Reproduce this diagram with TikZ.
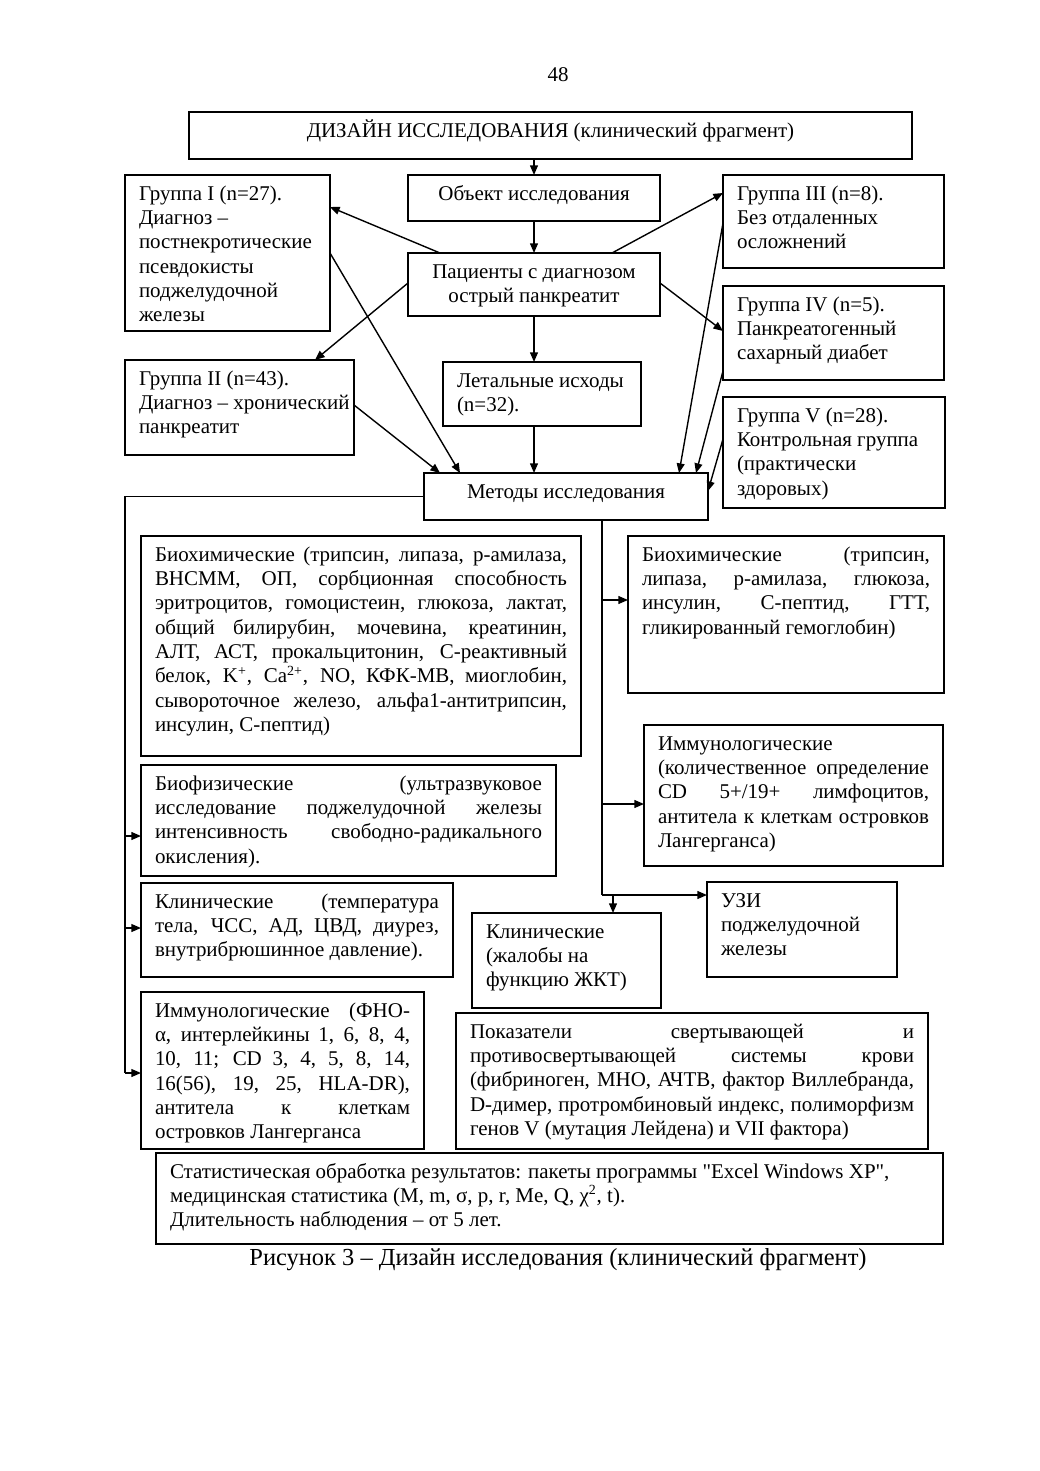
\documentclass[tikz,border=0pt]{standalone}
\usepackage{fontspec}
\newfontfamily\tnr{Liberation Serif}
\usetikzlibrary{arrows.meta,calc}
\newdimen\upx \upx=0.5723pt
\newdimen\padx \padx=14\upx
\newcommand\rag{\rightskip=0pt plus 1fil\relax}
\newcommand\ctr{\leftskip=\padx plus 1fil\relax \rightskip=\padx plus 1fil\relax \parfillskip=0pt\relax}
\newcommand\lb{\unskip\penalty-10000\relax}
\newcommand\boxtext[4]{%
  \vbox to #3\upx{%
    \hsize=#2\upx
    \tnr\fontsize{12pt}{13.9pt}\selectfont
    \parindent=0pt \parskip=0pt
    \leftskip=\padx \rightskip=\padx \parfillskip=0pt plus 1fil\relax
    \tolerance=10000 \hbadness=10000 \hfuzz=30pt \hyphenpenalty=10000 \exhyphenpenalty=10000
    #1%
    \vskip\upx \prevdepth=0pt
    #4\par\vss}}
\tikzset{
  bx/.style={draw, line width=0.6pt, anchor=north west, inner sep=0pt, outer sep=0pt},
  ln/.style={line width=0.8pt},
  arr/.style={line width=0.8pt, -{Triangle[length=5.5pt,width=4.5pt]}}
}
\begin{document}
\begin{tikzpicture}[x=0.5723pt,y=-0.5723pt]
\fill[white] (0,0) rectangle (1040,1471);
\useasboundingbox (0,0) rectangle (1040,1471);

\node[font=\tnr\fontsize{12pt}{14pt}\selectfont] (pg) at (558,75) {48};

% upper part
\node[bx] (title) at (189,112) {\boxtext{\ctr}{723}{47}{ДИЗАЙН ИССЛЕДОВАНИЯ (клинический фрагмент)}};
\node[bx] (obj) at (408,175) {\boxtext{\ctr}{252}{46}{Объект исследования}};
\node[bx] (g1) at (125,175) {\boxtext{\rag}{205}{156}{Группа I (n=27).\par Диагноз –\par постнекротические\par псевдокисты\par поджелудочной\par железы}};
\node[bx] (g3) at (723,175) {\boxtext{\rag}{221}{93}{Группа III (n=8).\par Без отдаленных\par осложнений}};
\node[bx] (pat) at (408,253) {\boxtext{\ctr}{252}{63}{Пациенты с диагнозом\par острый панкреатит}};
\node[bx] (g4) at (723,286) {\boxtext{\rag}{221}{94}{Группа IV (n=5).\par Панкреатогенный\par сахарный диабет}};
\node[bx] (g2) at (125,360) {\boxtext{\rag}{229}{95}{Группа II (n=43).\par Диагноз – хронический\par панкреатит}};
\node[bx] (leth) at (443,362) {\boxtext{\rag}{198}{64}{Летальные исходы\par (n=32).}};
\node[bx] (g5) at (723,397) {\boxtext{\rag}{222}{111}{Группа V (n=28).\par Контрольная группа\par (практически\par здоровых)}};
\node[bx] (meth) at (424,473) {\boxtext{\ctr}{284}{47}{Методы исследования}};

% lower part
\node[bx] (bcL) at (141,536) {\boxtext{}{440}{220}{Биохимические (трипсин, липаза, р-амилаза,\lb ВНСММ, ОП, сорбционная способность\lb эритроцитов, гомоцистеин, глюкоза, лактат,\lb общий билирубин, мочевина, креатинин,\lb АЛТ, АСТ, прокальцитонин, С-реактивный\lb белок, K\textsuperscript{+}, Ca\textsuperscript{2+}, NO, КФК-МВ, миоглобин,\lb сывороточное железо, альфа1-антитрипсин,\lb инсулин, С-пептид)}};
\node[bx] (bcR) at (628,536) {\boxtext{}{316}{157}{Биохимические (трипсин,\lb липаза, р-амилаза, глюкоза,\lb инсулин, С-пептид, ГТТ,\lb гликированный гемоглобин)}};
\node[bx] (imR) at (644,725) {\boxtext{}{299}{141}{Иммунологические\par (количественное определение\lb CD 5+/19+ лимфоцитов,\lb антитела к клеткам островков\lb Лангерганса)}};
\node[bx] (bf) at (141,765) {\boxtext{}{415}{111}{Биофизические (ультразвуковое\lb исследование поджелудочной железы\lb интенсивность свободно-радикального\lb окисления).}};
\node[bx] (kl) at (141,883) {\boxtext{}{312}{94}{Клинические (температура\lb тела, ЧСС, АД, ЦВД, диурез,\lb внутрибрюшинное давление).}};
\node[bx] (uzi) at (707,882) {\boxtext{\rag}{190}{95}{УЗИ\par поджелудочной\par железы}};
\node[bx] (kl2) at (472,913) {\boxtext{\rag}{189}{95}{Клинические\par (жалобы на\par функцию ЖКТ)}};
\node[bx] (imL) at (141,992) {\boxtext{}{283}{157}{Иммунологические (ФНО-\lb α, интерлейкины 1, 6, 8, 4,\lb 10, 11; CD 3, 4, 5, 8, 14,\lb 16(56), 19, 25, HLA-DR),\lb антитела к клеткам\lb островков Лангерганса}};
\node[bx] (pk) at (456,1013) {\boxtext{}{472}{136}{Показатели свертывающей и\lb противосвертывающей системы крови\lb (фибриноген, МНО, АЧТВ, фактор Виллебранда,\lb D-димер, протромбиновый индекс, полиморфизм\lb генов V (мутация Лейдена) и VII фактора)}};
\node[bx] (st) at (156,1153) {\boxtext{\rag}{787}{91}{Статистическая обработка результатов: пакеты программы "Excel Windows XP",\par медицинская статистика (M, m, σ, p, r, Me, Q, χ\textsuperscript{2}, t).\par Длительность наблюдения – от 5 лет.}};

\node[font=\tnr\fontsize{14pt}{16pt}\selectfont] (cap) at (558,1260) {Рисунок 3 – Дизайн исследования (клинический фрагмент)};

% upper connectors
\draw[arr] (title.south -| obj.north) -- (obj.north);
\draw[arr] (obj.south) -- (pat.north);
\draw[arr] ($(pat.north west)+(32,0)$) -- ($(g1.north east)+(0,32)$);
\draw[arr] ($(pat.north west)+(204,0)$) -- ($(g3.north west)+(0,18)$);
\draw[arr] ($(pat.north west)+(0,30)$) -- ($(g2.north west)+(190,0)$);
\draw[arr] ($(pat.north east)+(0,30)$) -- ($(g4.north west)+(0,45)$);
\draw[arr] (pat.south) -- (pat.south |- leth.north);
\draw[arr] (pat.south |- leth.south) -- (pat.south |- meth.north);
\draw[arr] ($(g1.north east)+(0,78)$) -- ($(meth.north west)+(36,0)$);
\draw[arr] ($(g2.north east)+(0,45)$) -- ($(meth.north west)+(16,0)$);
\draw[arr] ($(g3.north west)+(0,48)$) -- ($(meth.north west)+(255,0)$);
\draw[arr] ($(g4.north west)+(0,85)$) -- ($(meth.north west)+(272,0)$);
\draw[arr] ($(g5.north west)+(0,42)$) -- ($(meth.north east)+(0,18)$);

% left bus
\coordinate (busB) at (125,1073);
\draw[ln] (meth.west) -| (busB);
\draw[arr] (busB) -- (busB -| imL.west);
\draw[arr] ($(bf.north west)+(-16,71)$) -- ($(bf.north west)+(0,71)$);
\draw[arr] ($(kl.north west)+(-16,45)$) -- ($(kl.north west)+(0,45)$);

% right bus
\coordinate (busR) at (602,895);
\draw[ln] ($(meth.south west)+(178,0)$) -- (busR);
\draw[arr] (busR) -- (busR -| uzi.west);
\draw[arr] ($(bcR.north west)+(-26,64)$) -- ($(bcR.north west)+(0,64)$);
\draw[arr] ($(imR.north west)+(-42,79)$) -- ($(imR.north west)+(0,79)$);
\draw[arr] ($(kl2.north west)+(141,-18)$) -- ($(kl2.north west)+(141,0)$);
\end{tikzpicture}
\end{document}
